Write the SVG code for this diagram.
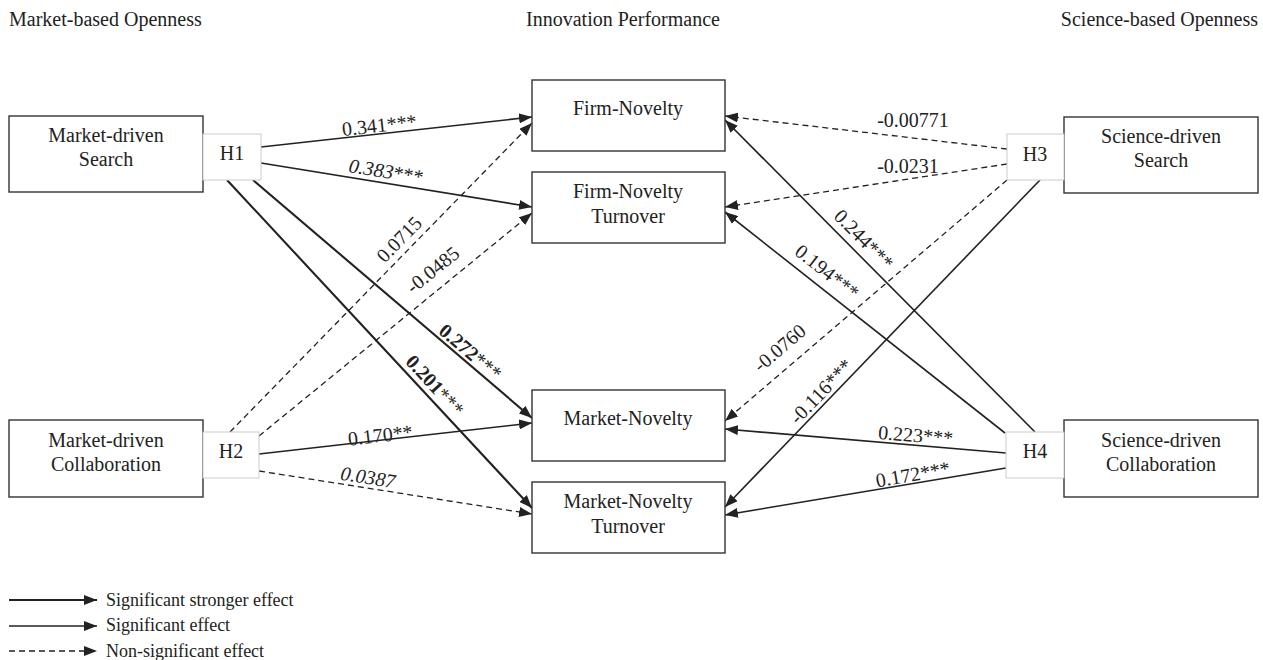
<svg xmlns="http://www.w3.org/2000/svg" width="1263" height="660" viewBox="0 0 1263 660">
<style>
text{font-family:"Liberation Serif","Times New Roman",serif;fill:#222;}
.t{font-size:20px;}
.c{font-size:20px;text-anchor:middle;}
.lb{font-size:20px;text-anchor:middle;}
.lg{font-size:18px;}
.box{fill:#fff;stroke:#333;stroke-width:1.4;}
.hb{fill:#fff;stroke:#ccc;stroke-width:1;}
.s{stroke:#222;stroke-width:1.6;fill:none;marker-end:url(#ah);}
.ss{stroke:#222;stroke-width:2.1;fill:none;marker-end:url(#ah);}
.d{stroke:#222;stroke-width:1.3;fill:none;stroke-dasharray:6 4;marker-end:url(#ah);}
</style>
<defs>
<marker id="ah" markerUnits="userSpaceOnUse" markerWidth="14" markerHeight="10" refX="13" refY="5" orient="auto">
<path d="M0,0 L13,5 L0,10 z" fill="#222"/>
</marker>
</defs>
<rect width="1263" height="660" fill="#fff"/>
<g id="titles">
<text class="t" x="9" y="26">Market-based Openness</text>
<text class="c" x="623" y="26">Innovation Performance</text>
<text class="t" x="1258" y="26" text-anchor="end">Science-based Openness</text>
</g>
<g id="connectors">
<line class="s" x1="261" y1="147" x2="532" y2="117"/>
<line class="s" x1="261" y1="163" x2="532" y2="207"/>
<line class="ss" x1="253" y1="180" x2="532" y2="418"/>
<line class="ss" x1="227" y1="180" x2="532" y2="508"/>
<line class="d" x1="230" y1="432" x2="532" y2="123"/>
<line class="d" x1="259" y1="436" x2="532" y2="213"/>
<line class="s" x1="259" y1="454" x2="532" y2="423"/>
<line class="d" x1="259" y1="471" x2="532" y2="514"/>
<line class="d" x1="1007" y1="149" x2="725" y2="116"/>
<line class="d" x1="1007" y1="164" x2="725" y2="207"/>
<line class="d" x1="1007" y1="180" x2="725" y2="421"/>
<line class="s" x1="1040" y1="180" x2="725" y2="507"/>
<line class="s" x1="1035" y1="432" x2="725" y2="120"/>
<line class="s" x1="1005" y1="433" x2="725" y2="212"/>
<line class="s" x1="1006" y1="453" x2="725" y2="429"/>
<line class="s" x1="1006" y1="468" x2="725" y2="515"/>
</g>
<g id="labels">
<text class="lb" transform="translate(380,132) rotate(-6.3)">0.341***</text>
<text class="lb" transform="translate(385,178) rotate(9.4)"><tspan font-style="italic">0.383</tspan>***</text>
<text class="lb" transform="translate(404,244) rotate(-45.8)">0.0715</text>
<text class="lb" transform="translate(437,275) rotate(-39)">-0.0485</text>
<text class="lb" transform="translate(466,357) rotate(40.5)"><tspan font-weight="bold">0.272</tspan>***</text>
<text class="lb" transform="translate(430,390) rotate(47.2)"><tspan font-weight="bold">0.201</tspan>***</text>
<text class="lb" transform="translate(381,442) rotate(-6.5)">0.170**</text>
<text class="lb" transform="translate(367,484) rotate(8.7)"><tspan font-style="italic">0.0387</tspan></text>
<text class="lb" x="913" y="127">-0.00771</text>
<text class="lb" x="908" y="173">-0.0231</text>
<text class="lb" transform="translate(859,244) rotate(45.6)">0.244***</text>
<text class="lb" transform="translate(823,277) rotate(38.4)">0.194***</text>
<text class="lb" transform="translate(784,353) rotate(-40.6)">-0.0760</text>
<text class="lb" transform="translate(826,396) rotate(-46.2)">-0.116***</text>
<text class="lb" transform="translate(915,442) rotate(4.7)">0.223***</text>
<text class="lb" transform="translate(914,481) rotate(-9.8)">0.172***</text>
</g>
<g id="market-driven-search">
<rect class="box" x="9" y="116" width="194" height="76"/>
<text class="c" x="106" y="142">Market-driven</text>
<text class="c" x="106" y="166">Search</text>
</g>
<g id="h1">
<rect class="hb" x="203" y="134" width="58" height="46"/>
<text class="c" x="232" y="160">H1</text>
</g>
<g id="market-driven-collaboration">
<rect class="box" x="9" y="420" width="194" height="77"/>
<text class="c" x="106" y="447">Market-driven</text>
<text class="c" x="106" y="471">Collaboration</text>
</g>
<g id="h2">
<rect class="hb" x="203" y="432" width="56" height="46"/>
<text class="c" x="231" y="458">H2</text>
</g>
<g id="science-driven-search">
<rect class="box" x="1064" y="117" width="194" height="76"/>
<text class="c" x="1161" y="143">Science-driven</text>
<text class="c" x="1161" y="167">Search</text>
</g>
<g id="h3">
<rect class="hb" x="1007" y="134" width="57" height="46"/>
<text class="c" x="1035" y="161">H3</text>
</g>
<g id="science-driven-collaboration">
<rect class="box" x="1064" y="420" width="194" height="77"/>
<text class="c" x="1161" y="447">Science-driven</text>
<text class="c" x="1161" y="471">Collaboration</text>
</g>
<g id="h4">
<rect class="hb" x="1006" y="432" width="58" height="46"/>
<text class="c" x="1035" y="458">H4</text>
</g>
<g id="firm-novelty">
<rect class="box" x="532" y="80" width="193" height="71"/>
<text class="c" x="628" y="115">Firm-Novelty</text>
</g>
<g id="firm-novelty-turnover">
<rect class="box" x="532" y="172" width="193" height="71"/>
<text class="c" x="628" y="198">Firm-Novelty</text>
<text class="c" x="628" y="223">Turnover</text>
</g>
<g id="market-novelty">
<rect class="box" x="532" y="390" width="193" height="71"/>
<text class="c" x="628" y="425">Market-Novelty</text>
</g>
<g id="market-novelty-turnover">
<rect class="box" x="532" y="482" width="193" height="71"/>
<text class="c" x="628" y="508">Market-Novelty</text>
<text class="c" x="628" y="533">Turnover</text>
</g>
<g id="legend">
<line class="ss" x1="9" y1="600" x2="97" y2="600"/>
<line class="s" x1="9" y1="626" x2="97" y2="626"/>
<line class="d" x1="9" y1="651" x2="97" y2="651" stroke-dasharray="5 3.5"/>
<text class="lg" x="106" y="606">Significant stronger effect</text>
<text class="lg" x="106" y="631">Significant effect</text>
<text class="lg" x="106" y="657">Non-significant effect</text>
</g>
</svg>
